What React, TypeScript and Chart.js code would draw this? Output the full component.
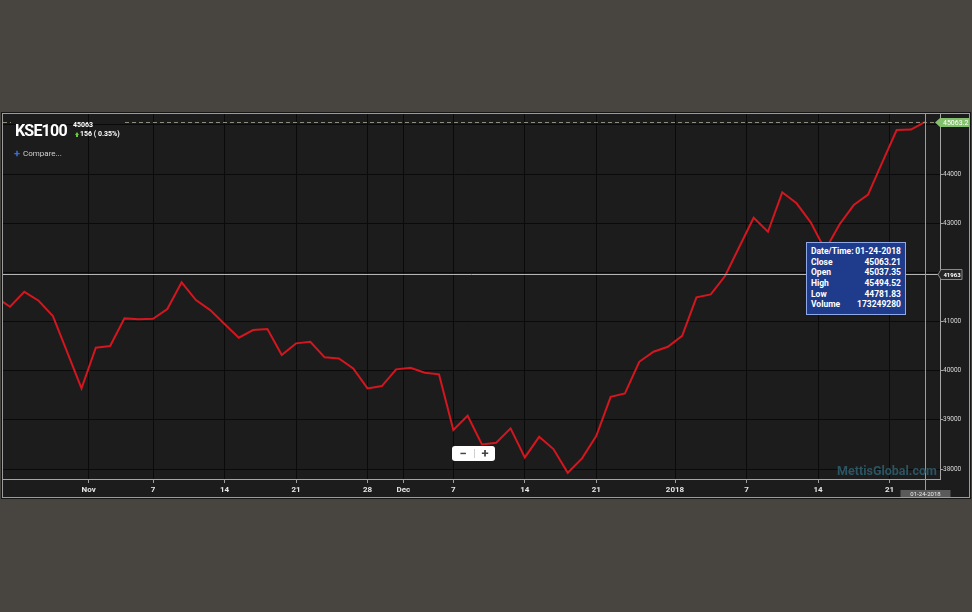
import React, { useEffect, useRef } from "react";
import { Chart, registerables } from "chart.js";

Chart.register(...registerables);

// ---- data ----
const symbol = "KSE100";
const firstIndex = -1; // trading-day index of first value
const closeValues = [
  41498, 41300, 41605, 41422, 41111, 40379, 39640, 40466, 40501, 41064,
  41044, 41056, 41253, 41797, 41437, 41233, 40948, 40670, 40826, 40847,
  40318, 40556, 40588, 40271, 40250, 40047, 39640, 39687, 40027, 40059,
  39957, 39925, 38792, 39083, 38501, 38533, 38826, 38236, 38655, 38405,
  37923, 38216, 38676, 39469, 39538, 40181, 40385, 40486, 40710, 41491,
  41552, 41925, 42521, 43111, 42826, 43628, 43404, 43013, 42454, 42973,
  43369, 43583, 44244, 44895, 44905, 45063.21,
];
const xTickPositions = [5.5, 10, 15, 20, 25, 27.5, 31, 36, 41, 46.5, 51.5, 56.5, 61.5];
const xTickLabels = ["Nov", "7", "14", "21", "28", "Dec", "7", "14", "21", "2018", "7", "14", "21"];
const yTickValues = [38000, 39000, 40000, 41000, 42000, 43000, 44000, 45000];
const xMin = -0.49;
const xMax = 65.03;
const yMin = 37797;
const yMax = 45221;
const lastIndex = 64;
const lastClose = 45063.21;
const lastCloseLabel = "45063.21";
const headerPrice = "45063";
const headerChange = "156 ( 0.35%)";
const crosshairValue = 41963;
const lastDate = "01-24-2018";
const tooltipLabels = ["Date/Time:", "Close", "Open", "High", "Low", "Volume"];
const tooltipValues = ["01-24-2018", "45063.21", "45037.35", "45494.52", "44781.83", "173249280"];
const watermark = "MettisGlobal.com";

const FONT = "Roboto, 'Noto Sans', sans-serif";

const overlayPlugin = {
  id: "overlay",
  afterDraw(chart: any) {
    const { ctx, chartArea: a, scales } = chart;
    const xs = scales.x;
    const ys = scales.y;
    const yLast = Math.round(ys.getPixelForValue(lastClose)) + 0.5;
    const yCross = Math.round(ys.getPixelForValue(crosshairValue)) + 0.5;
    const xCross = Math.round(xs.getPixelForValue(lastIndex)) + 0.5;
    ctx.save();
    ctx.lineWidth = 1;
    // dashed last-price line
    ctx.strokeStyle = "#8e8c7a";
    ctx.setLineDash([4, 3]);
    ctx.beginPath();
    ctx.moveTo(a.left, yLast);
    ctx.lineTo(a.left + 8, yLast);
    ctx.moveTo(a.left + 122, yLast);
    ctx.lineTo(a.right, yLast);
    ctx.stroke();
    ctx.setLineDash([]);
    // crosshair
    ctx.strokeStyle = "#b4b4b4";
    ctx.beginPath();
    ctx.moveTo(a.left, yCross);
    ctx.lineTo(a.right, yCross);
    ctx.stroke();
    ctx.strokeStyle = "#9c9c9c";
    ctx.beginPath();
    ctx.moveTo(xCross, a.top);
    ctx.lineTo(xCross, a.bottom + 11);
    ctx.stroke();

    // crosshair value label on axis
    const lx = a.right - 2;
    ctx.fillStyle = "#262626";
    ctx.strokeStyle = "#8a8a8a";
    ctx.beginPath();
    ctx.moveTo(lx, yCross);
    ctx.lineTo(lx + 3, yCross - 5);
    ctx.lineTo(lx + 24, yCross - 5);
    ctx.lineTo(lx + 24, yCross + 5);
    ctx.lineTo(lx + 3, yCross + 5);
    ctx.closePath();
    ctx.fill();
    ctx.stroke();
    ctx.fillStyle = "#ffffff";
    ctx.font = "bold 6px " + FONT;
    ctx.textAlign = "center";
    ctx.textBaseline = "middle";
    ctx.fillText(String(crosshairValue), lx + 14, yCross + 0.5);

    // last price label (green)
    ctx.fillStyle = "#84c16c";
    ctx.beginPath();
    ctx.moveTo(a.right - 5, yLast);
    ctx.lineTo(a.right, yLast - 4.5);
    ctx.lineTo(chart.width, yLast - 4.5);
    ctx.lineTo(chart.width, yLast + 4.5);
    ctx.lineTo(a.right, yLast + 4.5);
    ctx.closePath();
    ctx.fill();
    ctx.fillStyle = "#ffffff";
    ctx.font = "7px " + FONT;
    ctx.textAlign = "left";
    ctx.fillText(lastCloseLabel, a.right + 3, yLast + 0.5);

    // date label on x axis
    ctx.fillStyle = "#5a5a5a";
    ctx.fillRect(xCross - 25, a.bottom + 11, 50, 10);
    ctx.fillStyle = "#e8e8e8";
    ctx.font = "6px " + FONT;
    ctx.textAlign = "center";
    ctx.fillText(lastDate, xCross, a.bottom + 15.5);
    ctx.restore();
  },
};

export default function App() {
  const canvasRef = useRef<HTMLCanvasElement | null>(null);

  useEffect(() => {
    const canvas = canvasRef.current;
    if (!canvas) return;
    Chart.defaults.font.family = FONT;
    const chart = new Chart(canvas, {
      type: "line",
      data: {
        datasets: [
          {
            data: closeValues.map((v, i) => ({ x: i + firstIndex, y: v })),
            borderColor: "#d3161f",
            borderWidth: 2,
            pointRadius: 0,
            tension: 0,
            fill: false,
            clip: 0,
          } as any,
        ],
      },
      options: {
        animation: false,
        responsive: false,
        devicePixelRatio: 1,
        events: [],
        layout: { padding: 0 },
        plugins: { legend: { display: false }, tooltip: { enabled: false } },
        scales: {
          x: {
            type: "linear",
            position: "bottom",
            bounds: "data",
            min: xMin,
            max: xMax,
            afterBuildTicks: (s: any) => {
              s.ticks = xTickPositions.map((v) => ({ value: v }));
            },
            afterFit: (s: any) => {
              s.height = 18;
              s.paddingLeft = 0;
              s.paddingRight = 0;
            },
            ticks: {
              autoSkip: false,
              maxRotation: 0,
              minRotation: 0,
              padding: 2,
              color: "#e6e6e6",
              font: { size: 8, weight: "bold" },
              callback: (_v: any, i: number) => xTickLabels[i],
            },
            grid: { color: "#0a0a0a", tickColor: "#a0a0a0", tickLength: 4, lineWidth: 1 },
            border: { color: "#a5a5a5", width: 1 },
          },
          y: {
            type: "linear",
            position: "right",
            bounds: "data",
            min: yMin,
            max: yMax,
            afterBuildTicks: (s: any) => {
              s.ticks = yTickValues.map((v) => ({ value: v }));
            },
            afterFit: (s: any) => {
              s.width = 29;
              s.paddingTop = 0;
              s.paddingBottom = 0;
            },
            ticks: {
              padding: 0,
              color: "#d8d8d8",
              font: { size: 6.5 },
              callback: (v: any) => String(v),
            },
            grid: { color: "#0a0a0a", tickColor: "#a0a0a0", tickLength: 3, lineWidth: 1 },
            border: { color: "#a5a5a5", width: 1 },
          },
        },
      } as any,
      plugins: [overlayPlugin],
    });
    return () => chart.destroy();
  }, []);

  const abs = (l: number, t: number, extra: any = {}) => ({
    position: "absolute" as const,
    left: l,
    top: t,
    whiteSpace: "nowrap" as const,
    ...extra,
  });

  return (
    <div
      style={{
        position: "fixed",
        left: 0,
        top: 0,
        width: 972,
        height: 612,
        background: "#48443f",
        fontFamily: FONT,
        overflow: "hidden",
      }}
    >
      <div
        style={{
          position: "absolute",
          left: 2,
          top: 113,
          width: 966,
          height: 383,
          border: "1px solid #9c9c9c",
          background: "#1c1c1c",
          boxShadow: "0 0 0 1px #151515",
        }}
      >
        <canvas ref={canvasRef} width={966} height={383} style={{ display: "block", width: 966, height: 383 }} />
      </div>

      {/* header */}
      <div style={abs(15, 122.5, { color: "#fff", fontSize: 16, fontWeight: 700, lineHeight: "16px", letterSpacing: "-0.8px" })}>
        {symbol}
      </div>
      <div style={abs(73, 122, { color: "#fff", fontSize: 7, fontWeight: 700, lineHeight: "7px" })}>{headerPrice}</div>
      <div style={abs(74.5, 131.5, { width: 0, height: 0, borderLeft: "2.5px solid transparent", borderRight: "2.5px solid transparent", borderBottom: "3px solid #6cc83c" })} />
      <div style={abs(76, 134.5, { width: 2, height: 2.5, background: "#6cc83c" })} />
      <div style={abs(80, 130, { color: "#fff", fontSize: 7, fontWeight: 700, lineHeight: "8px" })}>{headerChange}</div>
      <div style={abs(14, 148, { color: "#3a6ee0", fontSize: 11, fontWeight: 700, lineHeight: "11px" })}>+</div>
      <div style={abs(23, 149.5, { color: "#cfcfcf", fontSize: 8, lineHeight: "8px" })}>Compare...</div>

      {/* tooltip */}
      <div
        style={abs(806, 242, {
          width: 100,
          height: 73,
          boxSizing: "border-box",
          border: "1px solid #8fa9e8",
          background: "#1f3b8c",
          padding: "3px 4px 0 4px",
          color: "#fff",
          fontSize: 8.5,
          fontWeight: 700,
        })}
      >
        {tooltipLabels.map((l, i) => (
          <div key={l} style={{ display: "flex", justifyContent: "space-between", lineHeight: "10.7px", height: 10.7 }}>
            <span>{l}</span>
            <span>{tooltipValues[i]}</span>
          </div>
        ))}
      </div>

      {/* zoom buttons */}
      <div style={abs(452, 446, { width: 43, height: 15, background: "#fff", borderRadius: 3 })}>
        <div style={abs(0, 0, { width: 22, height: 15, textAlign: "center", lineHeight: "15px", fontSize: 13, fontWeight: 700, color: "#444" })}>−</div>
        <div style={abs(22, 3, { width: 1, height: 9, background: "#cfcfcf" })} />
        <div style={abs(23, 0, { width: 20, height: 15, textAlign: "center", lineHeight: "15px", fontSize: 13, fontWeight: 700, color: "#444" })}>+</div>
      </div>

      {/* watermark */}
      <div style={abs(837, 464, { color: "#2b5563", fontSize: 12.5, fontWeight: 700, lineHeight: "13px" })}>{watermark}</div>
    </div>
  );
}
